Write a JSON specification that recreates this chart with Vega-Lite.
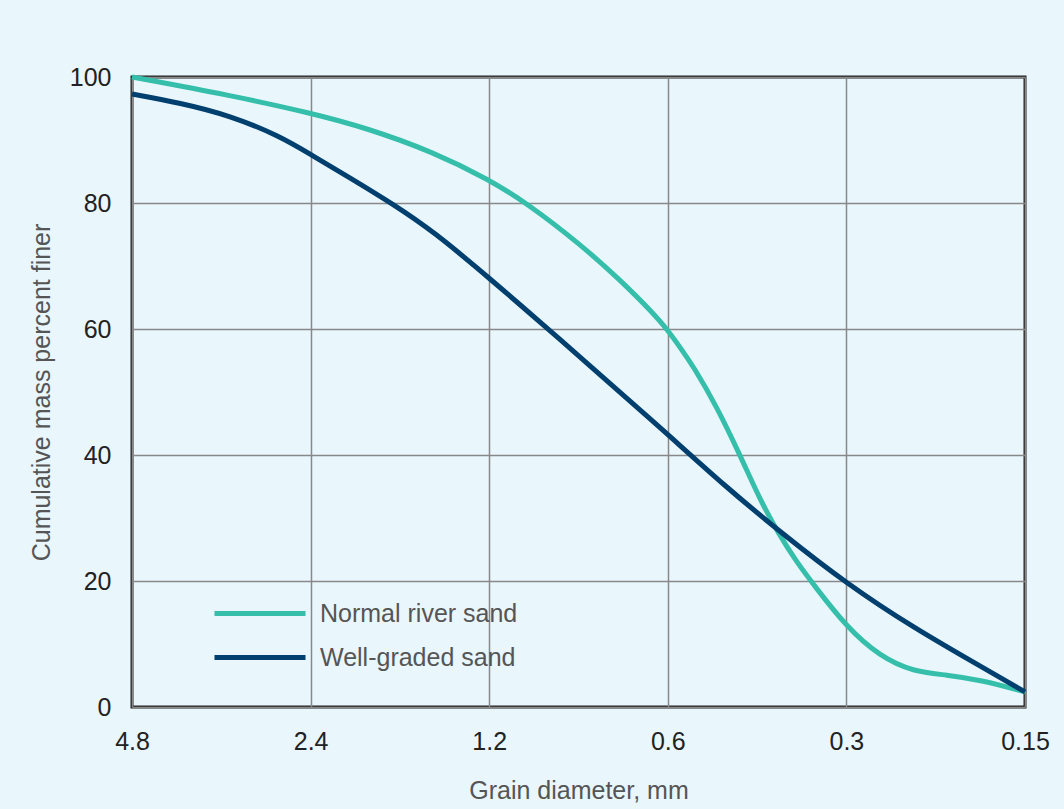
{
  "$schema": "https://vega.github.io/schema/vega-lite/v6.json",
  "width": 893,
  "height": 630,
  "autosize": "none",
  "padding": {"left": 132, "top": 77, "right": 39, "bottom": 102},
  "background": "#e9f6fc",
  "config": {
    "view": {"stroke": "#222222", "strokeWidth": 3, "fill": "#e9f6fc"},
    "font": "Liberation Sans"
  },
  "data": {
    "values": [
      {"series": "Normal river sand", "d": 4.8, "pct": 100},
      {"series": "Normal river sand", "d": 3.281, "pct": 97.1},
      {"series": "Normal river sand", "d": 2.4, "pct": 94.3},
      {"series": "Normal river sand", "d": 1.9304, "pct": 91.9},
      {"series": "Normal river sand", "d": 1.4907, "pct": 88.1},
      {"series": "Normal river sand", "d": 1.2, "pct": 83.7},
      {"series": "Normal river sand", "d": 1.0374, "pct": 80},
      {"series": "Normal river sand", "d": 0.8436, "pct": 73.5},
      {"series": "Normal river sand", "d": 0.7223, "pct": 67.8},
      {"series": "Normal river sand", "d": 0.6347, "pct": 62.5},
      {"series": "Normal river sand", "d": 0.6, "pct": 59.8},
      {"series": "Normal river sand", "d": 0.5723, "pct": 57.1},
      {"series": "Normal river sand", "d": 0.5435, "pct": 54.1},
      {"series": "Normal river sand", "d": 0.4963, "pct": 47.7},
      {"series": "Normal river sand", "d": 0.4534, "pct": 40},
      {"series": "Normal river sand", "d": 0.4195, "pct": 32.9},
      {"series": "Normal river sand", "d": 0.3908, "pct": 27.6},
      {"series": "Normal river sand", "d": 0.3639, "pct": 23.0},
      {"series": "Normal river sand", "d": 0.3412, "pct": 19.5},
      {"series": "Normal river sand", "d": 0.3, "pct": 12.7},
      {"series": "Normal river sand", "d": 0.2633, "pct": 8.0},
      {"series": "Normal river sand", "d": 0.2314, "pct": 5.6},
      {"series": "Normal river sand", "d": 0.2032, "pct": 5.1},
      {"series": "Normal river sand", "d": 0.1786, "pct": 4.3},
      {"series": "Normal river sand", "d": 0.15, "pct": 2.4},
      {"series": "Well-graded sand", "d": 4.8, "pct": 97.3},
      {"series": "Well-graded sand", "d": 3.984, "pct": 95.9},
      {"series": "Well-graded sand", "d": 3.281, "pct": 93.9},
      {"series": "Well-graded sand", "d": 2.703, "pct": 90.6},
      {"series": "Well-graded sand", "d": 2.4, "pct": 87.7},
      {"series": "Well-graded sand", "d": 2.0596, "pct": 84.0},
      {"series": "Well-graded sand", "d": 1.7411, "pct": 79.8},
      {"series": "Well-graded sand", "d": 1.4907, "pct": 75.5},
      {"series": "Well-graded sand", "d": 1.2, "pct": 68.1},
      {"series": "Well-graded sand", "d": 0.96, "pct": 60.2},
      {"series": "Well-graded sand", "d": 0.8219, "pct": 54.6},
      {"series": "Well-graded sand", "d": 0.6184, "pct": 44.4},
      {"series": "Well-graded sand", "d": 0.4774, "pct": 34.8},
      {"series": "Well-graded sand", "d": 0.3856, "pct": 27.6},
      {"series": "Well-graded sand", "d": 0.3, "pct": 19.6},
      {"series": "Well-graded sand", "d": 0.2314, "pct": 12.6},
      {"series": "Well-graded sand", "d": 0.1786, "pct": 6.5},
      {"series": "Well-graded sand", "d": 0.15, "pct": 2.4}
    ]
  },
  "mark": {"type": "line", "interpolate": "basis", "strokeWidth": 5},
  "encoding": {
    "x": {
      "field": "d",
      "type": "quantitative",
      "scale": {"type": "log", "base": 2, "domain": [0.15, 4.8], "reverse": true, "nice": false},
      "axis": {
        "values": [4.8, 2.4, 1.2, 0.6, 0.3, 0.15],
        "labelExpr": "'' + datum.value",
        "title": "Grain diameter, mm",
        "grid": true,
        "gridColor": "#888888",
        "gridWidth": 1.5,
        "ticks": false,
        "domain": false,
        "labelFontSize": 25,
        "labelColor": "#222222",
        "labelPadding": 22,
        "labelFlush": false,
        "titleFontSize": 25,
        "titleFontWeight": "normal",
        "titleColor": "#555555",
        "titlePadding": 24
      }
    },
    "y": {
      "field": "pct",
      "type": "quantitative",
      "scale": {"domain": [0, 100], "nice": false},
      "axis": {
        "values": [0, 20, 40, 60, 80, 100],
        "title": "Cumulative mass percent finer",
        "grid": true,
        "gridColor": "#888888",
        "gridWidth": 1.5,
        "ticks": false,
        "domain": false,
        "labelFontSize": 25,
        "labelColor": "#222222",
        "labelPadding": 21,
        "titleFontSize": 25,
        "titleFontWeight": "normal",
        "titleColor": "#555555",
        "titlePadding": 15
      }
    },
    "color": {
      "field": "series",
      "type": "nominal",
      "scale": {"domain": ["Normal river sand", "Well-graded sand"], "range": ["#35bfaa", "#013f6e"]},
      "legend": {
        "title": null,
        "orient": "none",
        "legendX": 97.5,
        "legendY": 506,
        "symbolType": "M-1.625,0H1.625",
        "symbolSize": 3136,
        "symbolStrokeWidth": 5,
        "labelFontSize": 25,
        "labelColor": "#555555",
        "labelOffset": 29.5,
        "labelLimit": 0,
        "rowPadding": -2,
        "padding": 0
      }
    }
  }
}
